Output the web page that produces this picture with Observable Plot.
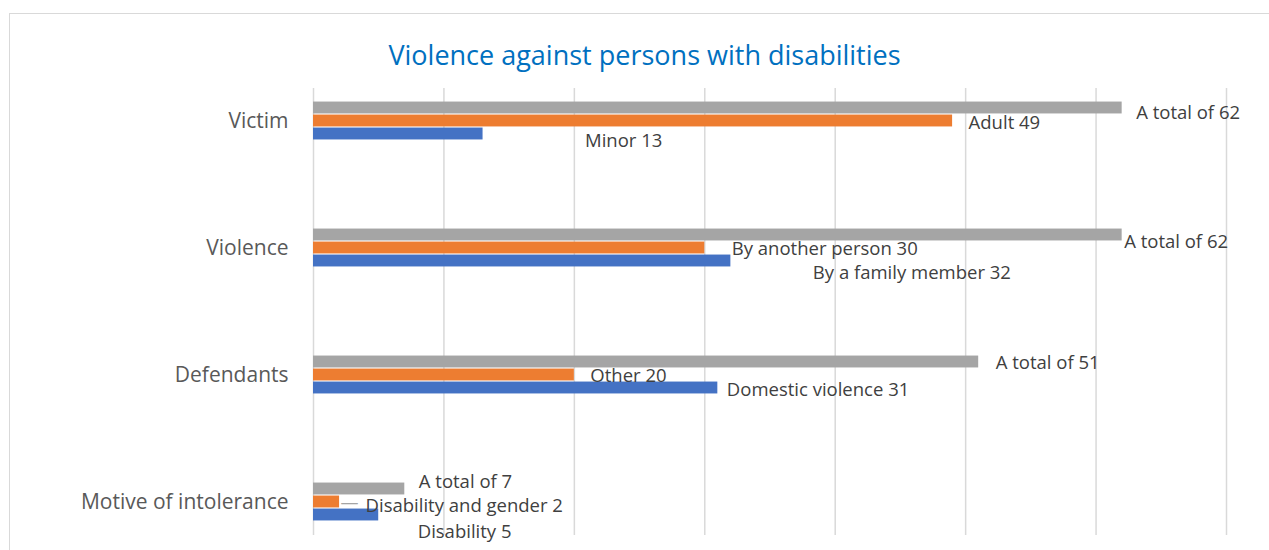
<!DOCTYPE html>
<html>
<head>
<meta charset="utf-8">
<script src="https://cdn.jsdelivr.net/npm/d3@7"></script>
<script src="https://cdn.jsdelivr.net/npm/@observablehq/plot@0.6"></script>
<style>
  html, body { margin: 0; padding: 0; width: 1269px; height: 550px; overflow: hidden; background: #fff; font-family: "Open Sans", sans-serif; }
  #frame { position: absolute; left: 9px; top: 13px; width: 1400px; height: 700px; border: 1.5px solid #d9d9d9; box-sizing: border-box; }
  #chart { position: absolute; left: 0; top: 0; }
  #title { position: absolute; left: 0; top: 41px; width: 1289px; text-align: center; color: #0070C0; font-size: 27px; line-height: 27px; font-family: "Open Sans", sans-serif; font-weight: normal; }
</style>
</head>
<body>
<div id="frame"></div>
<div id="chart"></div>
<div id="title">Violence against persons with disabilities</div>
<script>
// ---- data ----
const categories = ["Victim", "Violence", "Defendants", "Motive of intolerance"];
const totalValues = [62, 62, 51, 7];
const secondValues = [49, 30, 20, 2];
const firstValues = [13, 32, 31, 5];
const totalLabels = ["A total of 62", "A total of 62", "A total of 51", "A total of 7"];
const secondLabels = ["Adult 49", "By another person 30", "Other 20", "Disability and gender 2"];
const firstLabels = ["Minor 13", "By a family member 32", "Domestic violence 31", "Disability 5"];

// ---- layout (label nudges in px, as placed in the original) ----
const labelNudges = {
  total:  [[14, -8], [2, -5.5], [17, -12], [14, -19.5]],
  second: [[16, 2], [27, 1.5], [16, 1], [26, 4.5]],
  first:  [[102, 20], [82, 25.5], [9, 15], [39, 30.5]]
};

const rows = categories.map((c, i) => ({
  category: c,
  total: totalValues[i], second: secondValues[i], first: firstValues[i],
  totalLabel: totalLabels[i], secondLabel: secondLabels[i], firstLabel: firstLabels[i]
}));

const series = [
  {key: "total", color: "#A5A5A5", offset: -13},
  {key: "second", color: "#ED7D31", offset: 0},
  {key: "first", color: "#4472C4", offset: 13}
];

const half = 63.75, barHalf = 6.2;

const marks = [
  Plot.ruleX(d3.ticks(0, 70, 7), {stroke: "#d9d9d9", strokeWidth: 1.5}),
  ...series.map(s => Plot.barX(rows, {
    y: "category", x: s.key, fill: s.color,
    insetTop: half + s.offset - barHalf,
    insetBottom: half - s.offset - barHalf
  })),
  Plot.text(rows.filter(r => r.category === "Motive of intolerance"), {
    x: "second", y: "category", text: () => "—", dx: 1, dy: 1,
    textAnchor: "start", lineAnchor: "middle", fill: "#A5A5A5", fontSize: 18
  }),
  ...series.flatMap(s => rows.map((r, i) => Plot.text([r], {
    x: s.key, y: "category", text: s.key + "Label",
    dx: labelNudges[s.key][i][0], dy: labelNudges[s.key][i][1],
    textAnchor: "start", lineAnchor: "middle", fontSize: 18.5, fill: "#404040"
  })))
];

const chart = Plot.plot({
  width: 1269, height: 550,
  marginTop: 88, marginBottom: 15, marginLeft: 313, marginRight: 43,
  style: {fontFamily: "Open Sans, sans-serif", fontSize: "21px", color: "#595959", background: "transparent", overflow: "visible"},
  x: {domain: [0, 70], axis: null},
  y: {type: "band", domain: categories, range: [56.25, 566.25], padding: 0, axis: "left", tickSize: 0, tickPadding: 25, label: null},
  marks
});
document.getElementById("chart").appendChild(chart);
</script>
</body>
</html>
